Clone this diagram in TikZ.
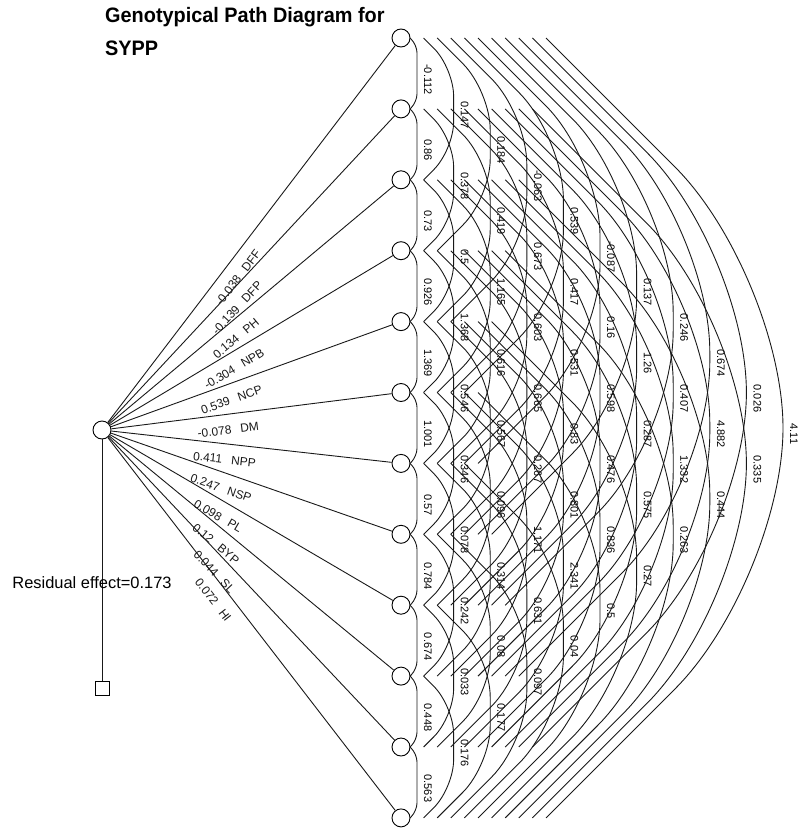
\documentclass[tikz,border=0pt]{standalone}
\usepackage{fontspec}
\setmainfont{Liberation Sans}
\usetikzlibrary{calc}
\tikzset{
  var/.style={draw, circle, minimum size=18bp, inner sep=0, line width=0.9bp, fill=white},
  wire/.style={line width=0.9bp, black!90},
  corr/.style={font=\fontsize{11}{11}\selectfont, rotate=-90, inner sep=0},
  pathlbl/.style={font=\fontsize{12}{12}\selectfont, inner sep=0, sloped, below=11bp, pos=0.41},
  ttl/.style={anchor=base west, font=\bfseries\fontsize{21}{21}\selectfont, inner sep=0},
}
\begin{document}
\begin{tikzpicture}[x=1bp,y=-1bp]
\useasboundingbox (0,0) rectangle (804,832);
\node[ttl] (t1) at (105,22) {\scalebox{0.95}[1]{Genotypical Path Diagram for}};
\node[ttl] (t2) at (105,55) {\scalebox{0.95}[1]{SYPP}};
\node[var] (dep) at (102,430) {};
\node[draw, minimum size=14bp, inner sep=0, line width=0.9bp] (res) at (102,688) {};
\draw[wire] (dep) -- (res);
\node[font=\fontsize{16.5}{16.5}\selectfont, inner sep=0] (resl) at (92,583) {Residual effect=0.173};
\foreach \k in {1,...,12} \node[var] (n\k) at (401, {38+70.9*(\k-1)}) {};
\foreach \k/\v/\n in {1/-0.038/DFF, 2/-0.139/DFP, 3/0.134/PH, 4/-0.304/NPB, 5/0.539/NCP, 6/-0.078/DM, 7/0.411/NPP, 8/0.247/NSP, 9/0.098/PL, 10/0.12/BYP, 11/0.044/SL, 12/0.072/HI}
  \draw[wire] (dep) -- (n\k) node[pathlbl] (p\k) {\v\hspace{9bp}\n};
\foreach \i/\j/\v in {1/2/-0.112, 2/3/0.86, 3/4/0.73, 4/5/0.926, 5/6/1.369, 6/7/1.001, 7/8/0.57, 8/9/0.784, 9/10/0.674, 10/11/0.448, 11/12/0.563,
 1/3/0.147, 2/4/0.378, 3/5/0.5, 4/6/1.368, 5/7/0.546, 6/8/0.346, 7/9/0.078, 8/10/0.242, 9/11/0.033, 10/12/0.176,
 1/4/0.184, 2/5/0.419, 3/6/1.165, 4/7/0.616, 5/8/0.567, 6/9/0.096, 7/10/0.314, 8/11/0.08, 9/12/0.177,
 1/5/-0.063, 2/6/0.673, 3/7/0.603, 4/8/0.665, 5/9/0.267, 6/10/1.171, 7/11/0.631, 8/12/0.097,
 1/6/0.539, 2/7/0.417, 3/8/0.531, 4/9/0.83, 5/10/0.801, 6/11/2.341, 7/12/0.04,
 1/7/-0.087, 2/8/0.16, 3/9/0.598, 4/10/0.476, 5/11/0.836, 6/12/0.5,
 1/8/0.137, 2/9/1.26, 3/10/0.287, 4/11/0.575, 5/12/0.27,
 1/9/0.246, 2/10/0.407, 3/11/1.332, 4/12/0.263,
 1/10/0.674, 2/11/4.882, 3/12/0.444,
 1/11/0.026, 2/12/0.335,
 1/12/4.11} {
  \pgfmathsetmacro\d{\j-\i}
  \pgfmathsetmacro\off{9+13.6*(\d-1)}
  \pgfmathsetmacro\w{7+23*(\d-1)}
  \pgfmathsetmacro\xc{\off+\w}
  \pgfmathsetmacro\V{70.9*\d-2*\w}
  \pgfmathsetmacro\R{min(min(0.3+0.02*\d,0.5)*\V,1.13*\w)}
  \pgfmathsetmacro\X{428+36.6*(\d-1)}
  \pgfmathsetmacro\Y{38+70.9*((\i+\j)/2-1)+6}
  \draw[wire, rounded corners=\R bp] ($(n\i.center)+(\off,0)$) -- ($(n\i.center)+(\xc,\w)$) -- ($(n\j.center)+(\xc,-\w)$) -- ($(n\j.center)+(\off,0)$);
  \node[corr] (c\i-\j) at (\X,\Y) {\v};
}
\end{tikzpicture}
\end{document}
